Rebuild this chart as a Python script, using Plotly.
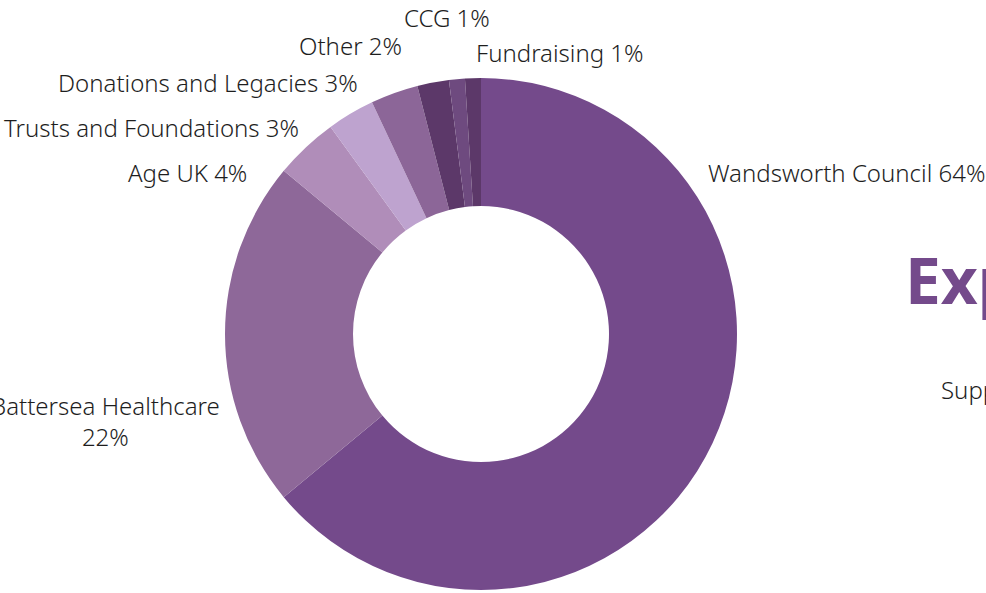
import plotly.graph_objects as go

W, H = 986, 593

# ---- data ----
categories = ["Wandsworth Council", "Battersea Healthcare", "Age UK",
              "Trusts and Foundations", "Donations and Legacies", "Other",
              "CCG", "Fundraising"]
values = [64, 22, 4, 3, 3, 2, 1, 1]

colors = ["#744A8B", "#8E6899", "#B08DB9", "#BEA3CF", "#8C6698",
          "#5C3869", "#6E4A7F", "#5C3869"]

# label placement (pixel coordinates of anchor, anchor side)
label_pos = {
    "Wandsworth Council": (706, 172, "left"),
    "Battersea Healthcare": (105, 421, "center"),
    "Age UK": (249, 172, "right"),
    "Trusts and Foundations": (301, 127, "right"),
    "Donations and Legacies": (360, 83, "right"),
    "Other": (404, 45, "right"),
    "CCG": (447, 17, "center"),
    "Fundraising": (474, 53, "left"),
}

cx, cy, r = 481, 334, 256

fig = go.Figure(go.Pie(
    labels=categories,
    values=values,
    hole=0.5,
    sort=False,
    direction="clockwise",
    rotation=0,
    marker=dict(colors=colors, line=dict(width=0)),
    textinfo="none",
    hoverinfo="label+percent",
    showlegend=False,
    domain=dict(x=[(cx - r) / W, (cx + r) / W],
                y=[(H - cy - r) / H, (H - cy + r) / H]),
))

total = sum(values)
font = dict(family="'Noto Sans', 'Open Sans', sans-serif", size=24,
            color="#1E1E1E", weight=300)
annotations = []
for name, v in zip(categories, values):
    px, py, anchor = label_pos[name]
    pct = f"{round(100 * v / total)}%"
    text = f"{name}<br>{pct}" if name == "Battersea Healthcare" else f"{name} {pct}"
    annotations.append(dict(
        x=px / W, y=1 - py / H, xref="paper", yref="paper",
        text=text, showarrow=False, xanchor=anchor, yanchor="middle",
        align="center", font=font,
    ))

# partially visible neighbouring page content
annotations.append(dict(x=903 / W, y=1 - 280 / H, xref="paper", yref="paper",
                        text="<b>Exp</b>", showarrow=False, xanchor="left",
                        yanchor="middle",
                        font=dict(family="'Noto Sans', 'Open Sans', sans-serif",
                                  size=64, color="#744A8B")))
annotations.append(dict(x=939 / W, y=1 - 389 / H, xref="paper", yref="paper",
                        text="Supp", showarrow=False, xanchor="left",
                        yanchor="middle", font=font))

fig.update_layout(
    width=W, height=H,
    margin=dict(l=0, r=0, t=0, b=0),
    paper_bgcolor="white", plot_bgcolor="white",
    annotations=annotations,
)

fig.write_html("out.html")
